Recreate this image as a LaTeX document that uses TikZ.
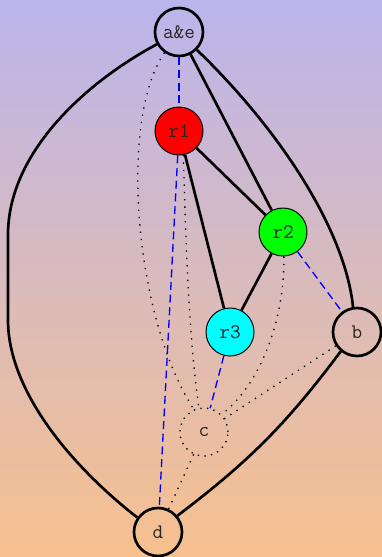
\documentclass[tikz,border=0pt]{standalone}
\usepackage{fontspec}
\definecolor{bgtop}{RGB}{187,181,236}
\definecolor{bgbot}{RGB}{247,192,142}
\definecolor{nred}{RGB}{255,0,0}
\definecolor{ngreen}{RGB}{0,255,0}
\definecolor{ncyan}{RGB}{0,255,255}
\definecolor{nblue}{RGB}{0,0,255}
\begin{document}
\begin{tikzpicture}[x=0.75pt,y=-0.75pt,
  gv/.style={circle,minimum size=36pt,inner sep=0pt,font=\ttfamily\fontsize{15.5}{17}\selectfont,text=black!85},
  thicknode/.style={gv,draw,line width=2pt},
  thinnode/.style={gv,draw,line width=0.75pt},
  dotnode/.style={gv,draw,line width=1pt,dash pattern=on 1pt off 4pt},
  solidedge/.style={line width=2pt},
  blueedge/.style={draw=nblue,line width=1pt,dash pattern=on 6pt off 3.5pt},
  dotedge/.style={line width=1pt,dash pattern=on 1pt off 4.5pt}]
\shade[top color=bgtop,bottom color=bgbot] (0,0) rectangle (382,557);
\useasboundingbox (0,0) rectangle (382,557);
\node[thicknode] (ae) at (179,32) {a\&e};
\node[thinnode,fill=nred] (r1) at (179,131) {r1};
\node[thinnode,fill=ngreen] (r2) at (283,232) {r2};
\node[thinnode,fill=ncyan] (r3) at (230,332) {r3};
\node[thicknode] (b) at (357,332) {b};
\node[dotnode] (c) at (204,432) {c};
\node[thicknode] (d) at (158,532) {d};
% solid edges
\draw[solidedge] (ae.209) .. controls (90,80) and (8,150) .. (8,235) -- (8,320) .. controls (8,390) and (70,465) .. (d.145);
\draw[solidedge] (ae) -- (r2);
\draw[solidedge] (ae.-45) .. controls (280,130) and (345,230) .. (b.99);
\draw[solidedge] (r1) -- (r2);
\draw[solidedge] (r1) -- (r3);
\draw[solidedge] (r2) -- (r3);
\draw[solidedge] (b.230) to[bend left=8] (d.40);
% blue dashed edges
\draw[blueedge] (ae) -- (r1);
\draw[blueedge] (r1) -- (d);
\draw[blueedge] (r2) -- (b);
\draw[blueedge] (r3) -- (c);
% dotted edges
\draw[dotedge] (ae.235) .. controls (118,120) and (135,320) .. (c.114);
\draw[dotedge] (r1.-80) .. controls (186,240) and (188,330) .. (c.102);
\draw[dotedge] (r2.-88) .. controls (285,320) and (260,385) .. (c.45);
\draw[dotedge] (b) -- (c);
\draw[dotedge] (c) -- (d);
\end{tikzpicture}
\end{document}
